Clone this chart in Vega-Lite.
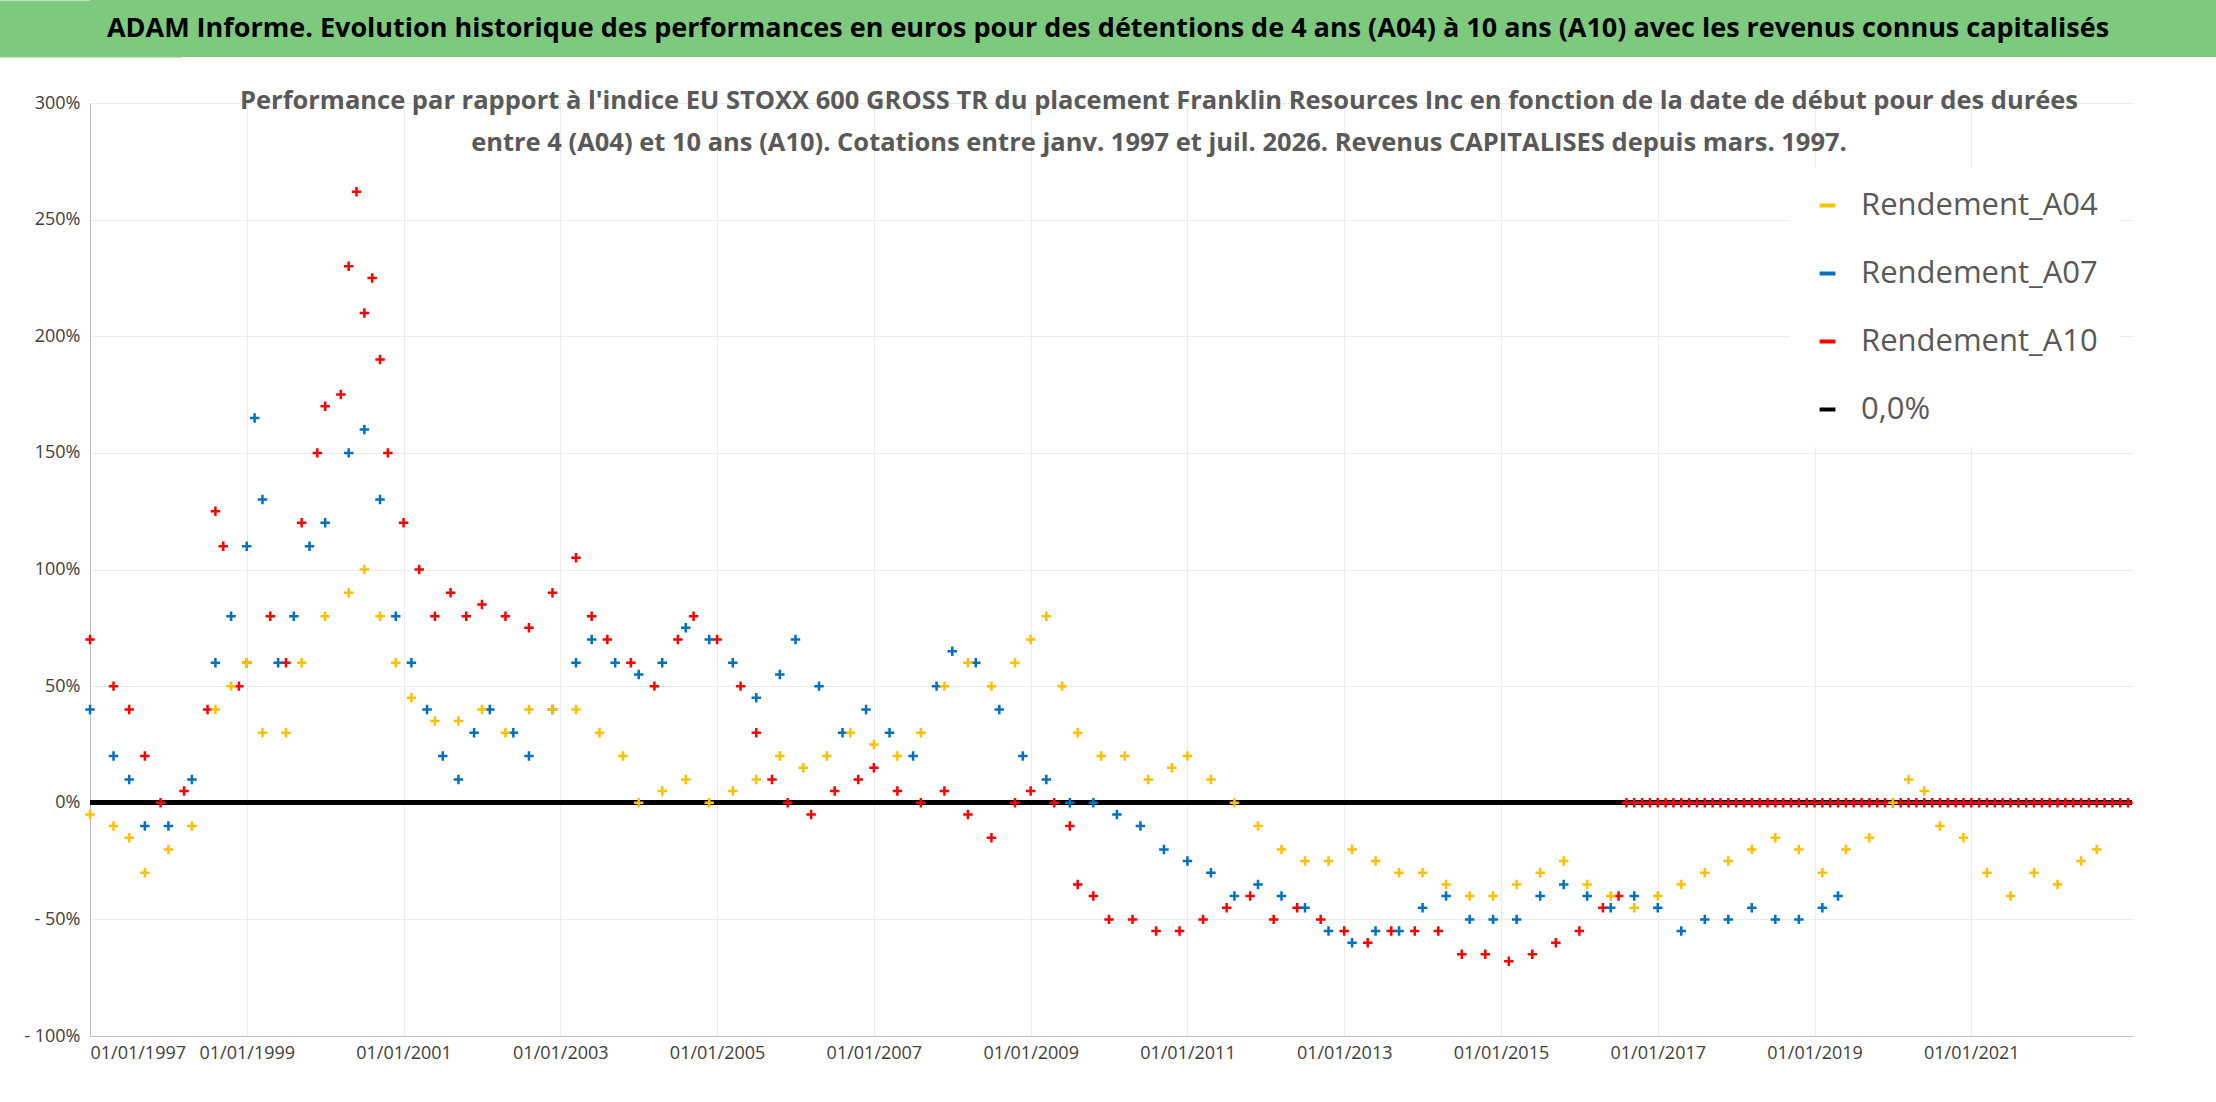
{
  "$schema": "https://vega.github.io/schema/vega-lite/v6.json",
  "background": "white",
  "padding": 0,
  "config": {"view": {"stroke": null}, "font": "Open Sans", "concat": {"spacing": 31}},
  "vconcat": [
    {
      "width": 2126,
      "height": 57,
      "view": {"fill": "#7dc97d", "stroke": null},
      "data": {"values": [{"txt": "ADAM Informe. Evolution historique des performances en euros pour des détentions de 4 ans (A04) à 10 ans (A10) avec les revenus connus capitalisés", "k": 0}]},
      "mark": {"type": "text", "fontSize": 27, "fontWeight": "bold", "font": "Open Sans", "color": "black", "align": "center", "baseline": "middle", "dx": -45},
      "encoding": {
        "text": {"field": "txt"},
        "y": {"field": "k", "type": "quantitative", "scale": {"domain": [-1, 1]},
          "axis": {"title": null, "labels": false, "ticks": false, "grid": false, "domainColor": "#7dc97d", "domainWidth": 182, "minExtent": 90, "maxExtent": 90}}
      }
    },
    {
      "width": 2042,
      "height": 933,
      "title": {
        "text": ["Performance par rapport à l'indice EU STOXX 600 GROSS TR  du placement Franklin Resources Inc en fonction de la date de début pour des durées", "entre 4 (A04) et 10 ans (A10). Cotations entre janv. 1997 et juil. 2026. Revenus CAPITALISES depuis mars. 1997."],
        "fontSize": 25.5, "fontWeight": "bold", "color": "#595959", "font": "Open Sans",
        "anchor": "middle", "dx": 48, "offset": -62, "lineHeight": 42
      },
      "data": {"values": [
        {"s":"Rendement_A10","t":1997.0,"v":70},{"s":"Rendement_A10","t":1997.3,"v":50},{"s":"Rendement_A10","t":1997.5,"v":40},{"s":"Rendement_A10","t":1997.7,"v":20},{"s":"Rendement_A10","t":1997.9,"v":0},{"s":"Rendement_A10","t":1998.2,"v":5},{"s":"Rendement_A10","t":1998.5,"v":40},{"s":"Rendement_A10","t":1998.6,"v":125},{"s":"Rendement_A10","t":1998.7,"v":110},{"s":"Rendement_A10","t":1998.9,"v":50},{"s":"Rendement_A10","t":1999.0,"v":60},{"s":"Rendement_A10","t":1999.3,"v":80},{"s":"Rendement_A10","t":1999.5,"v":60},{"s":"Rendement_A10","t":1999.7,"v":120},{"s":"Rendement_A10","t":1999.9,"v":150},{"s":"Rendement_A10","t":2000.0,"v":170},{"s":"Rendement_A10","t":2000.2,"v":175},{"s":"Rendement_A10","t":2000.3,"v":230},{"s":"Rendement_A10","t":2000.4,"v":262},{"s":"Rendement_A10","t":2000.5,"v":210},{"s":"Rendement_A10","t":2000.6,"v":225},{"s":"Rendement_A10","t":2000.7,"v":190},{"s":"Rendement_A10","t":2000.8,"v":150},{"s":"Rendement_A10","t":2001.0,"v":120},{"s":"Rendement_A10","t":2001.2,"v":100},{"s":"Rendement_A10","t":2001.4,"v":80},{"s":"Rendement_A10","t":2001.6,"v":90},{"s":"Rendement_A10","t":2001.8,"v":80},{"s":"Rendement_A10","t":2002.0,"v":85},{"s":"Rendement_A10","t":2002.3,"v":80},{"s":"Rendement_A10","t":2002.6,"v":75},{"s":"Rendement_A10","t":2002.9,"v":90},{"s":"Rendement_A10","t":2003.2,"v":105},{"s":"Rendement_A10","t":2003.4,"v":80},{"s":"Rendement_A10","t":2003.6,"v":70},{"s":"Rendement_A10","t":2003.9,"v":60},{"s":"Rendement_A10","t":2004.2,"v":50},{"s":"Rendement_A10","t":2004.5,"v":70},{"s":"Rendement_A10","t":2004.7,"v":80},{"s":"Rendement_A10","t":2005.0,"v":70},{"s":"Rendement_A10","t":2005.3,"v":50},{"s":"Rendement_A10","t":2005.5,"v":30},{"s":"Rendement_A10","t":2005.7,"v":10},{"s":"Rendement_A10","t":2005.9,"v":0},{"s":"Rendement_A10","t":2006.2,"v":-5},{"s":"Rendement_A10","t":2006.5,"v":5},{"s":"Rendement_A10","t":2006.8,"v":10},{"s":"Rendement_A10","t":2007.0,"v":15},{"s":"Rendement_A10","t":2007.3,"v":5},{"s":"Rendement_A10","t":2007.6,"v":0},{"s":"Rendement_A10","t":2007.9,"v":5},{"s":"Rendement_A10","t":2008.2,"v":-5},{"s":"Rendement_A10","t":2008.5,"v":-15},{"s":"Rendement_A10","t":2008.8,"v":0},{"s":"Rendement_A10","t":2009.0,"v":5},{"s":"Rendement_A10","t":2009.3,"v":0},{"s":"Rendement_A10","t":2009.5,"v":-10},{"s":"Rendement_A10","t":2009.6,"v":-35},{"s":"Rendement_A10","t":2009.8,"v":-40},{"s":"Rendement_A10","t":2010.0,"v":-50},{"s":"Rendement_A10","t":2010.3,"v":-50},{"s":"Rendement_A10","t":2010.6,"v":-55},{"s":"Rendement_A10","t":2010.9,"v":-55},{"s":"Rendement_A10","t":2011.2,"v":-50},{"s":"Rendement_A10","t":2011.5,"v":-45},{"s":"Rendement_A10","t":2011.8,"v":-40},{"s":"Rendement_A10","t":2012.1,"v":-50},{"s":"Rendement_A10","t":2012.4,"v":-45},{"s":"Rendement_A10","t":2012.7,"v":-50},{"s":"Rendement_A10","t":2013.0,"v":-55},{"s":"Rendement_A10","t":2013.3,"v":-60},{"s":"Rendement_A10","t":2013.6,"v":-55},{"s":"Rendement_A10","t":2013.9,"v":-55},{"s":"Rendement_A10","t":2014.2,"v":-55},{"s":"Rendement_A10","t":2014.5,"v":-65},{"s":"Rendement_A10","t":2014.8,"v":-65},{"s":"Rendement_A10","t":2015.1,"v":-68},{"s":"Rendement_A10","t":2015.4,"v":-65},{"s":"Rendement_A10","t":2015.7,"v":-60},{"s":"Rendement_A10","t":2016.0,"v":-55},{"s":"Rendement_A10","t":2016.3,"v":-45},{"s":"Rendement_A10","t":2016.5,"v":-40},
        {"s":"Rendement_A10","t":2016.6,"v":0},{"s":"Rendement_A10","t":2016.7,"v":0},{"s":"Rendement_A10","t":2016.8,"v":0},{"s":"Rendement_A10","t":2016.9,"v":0},{"s":"Rendement_A10","t":2017.0,"v":0},{"s":"Rendement_A10","t":2017.1,"v":0},{"s":"Rendement_A10","t":2017.2,"v":0},{"s":"Rendement_A10","t":2017.3,"v":0},{"s":"Rendement_A10","t":2017.4,"v":0},{"s":"Rendement_A10","t":2017.5,"v":0},{"s":"Rendement_A10","t":2017.6,"v":0},{"s":"Rendement_A10","t":2017.7,"v":0},{"s":"Rendement_A10","t":2017.8,"v":0},{"s":"Rendement_A10","t":2017.9,"v":0},{"s":"Rendement_A10","t":2018.0,"v":0},{"s":"Rendement_A10","t":2018.1,"v":0},{"s":"Rendement_A10","t":2018.2,"v":0},{"s":"Rendement_A10","t":2018.3,"v":0},{"s":"Rendement_A10","t":2018.4,"v":0},{"s":"Rendement_A10","t":2018.5,"v":0},{"s":"Rendement_A10","t":2018.6,"v":0},{"s":"Rendement_A10","t":2018.7,"v":0},{"s":"Rendement_A10","t":2018.8,"v":0},{"s":"Rendement_A10","t":2018.9,"v":0},{"s":"Rendement_A10","t":2019.0,"v":0},{"s":"Rendement_A10","t":2019.1,"v":0},{"s":"Rendement_A10","t":2019.2,"v":0},{"s":"Rendement_A10","t":2019.3,"v":0},{"s":"Rendement_A10","t":2019.4,"v":0},{"s":"Rendement_A10","t":2019.5,"v":0},{"s":"Rendement_A10","t":2019.6,"v":0},{"s":"Rendement_A10","t":2019.7,"v":0},{"s":"Rendement_A10","t":2019.8,"v":0},{"s":"Rendement_A10","t":2019.9,"v":0},{"s":"Rendement_A10","t":2020.0,"v":0},{"s":"Rendement_A10","t":2020.1,"v":0},{"s":"Rendement_A10","t":2020.2,"v":0},{"s":"Rendement_A10","t":2020.3,"v":0},{"s":"Rendement_A10","t":2020.4,"v":0},{"s":"Rendement_A10","t":2020.5,"v":0},{"s":"Rendement_A10","t":2020.6,"v":0},{"s":"Rendement_A10","t":2020.7,"v":0},{"s":"Rendement_A10","t":2020.8,"v":0},{"s":"Rendement_A10","t":2020.9,"v":0},{"s":"Rendement_A10","t":2021.0,"v":0},{"s":"Rendement_A10","t":2021.1,"v":0},{"s":"Rendement_A10","t":2021.2,"v":0},{"s":"Rendement_A10","t":2021.3,"v":0},{"s":"Rendement_A10","t":2021.4,"v":0},{"s":"Rendement_A10","t":2021.5,"v":0},{"s":"Rendement_A10","t":2021.6,"v":0},{"s":"Rendement_A10","t":2021.7,"v":0},{"s":"Rendement_A10","t":2021.8,"v":0},{"s":"Rendement_A10","t":2021.9,"v":0},{"s":"Rendement_A10","t":2022.0,"v":0},{"s":"Rendement_A10","t":2022.1,"v":0},{"s":"Rendement_A10","t":2022.2,"v":0},{"s":"Rendement_A10","t":2022.3,"v":0},{"s":"Rendement_A10","t":2022.4,"v":0},{"s":"Rendement_A10","t":2022.5,"v":0},{"s":"Rendement_A10","t":2022.6,"v":0},{"s":"Rendement_A10","t":2022.7,"v":0},{"s":"Rendement_A10","t":2022.8,"v":0},{"s":"Rendement_A10","t":2022.9,"v":0},{"s":"Rendement_A10","t":2023.0,"v":0},
        {"s":"Rendement_A07","t":1997.0,"v":40},{"s":"Rendement_A07","t":1997.3,"v":20},{"s":"Rendement_A07","t":1997.5,"v":10},{"s":"Rendement_A07","t":1997.7,"v":-10},{"s":"Rendement_A07","t":1998.0,"v":-10},{"s":"Rendement_A07","t":1998.3,"v":10},{"s":"Rendement_A07","t":1998.6,"v":60},{"s":"Rendement_A07","t":1998.8,"v":80},{"s":"Rendement_A07","t":1999.0,"v":110},{"s":"Rendement_A07","t":1999.1,"v":165},{"s":"Rendement_A07","t":1999.2,"v":130},{"s":"Rendement_A07","t":1999.4,"v":60},{"s":"Rendement_A07","t":1999.6,"v":80},{"s":"Rendement_A07","t":1999.8,"v":110},{"s":"Rendement_A07","t":2000.0,"v":120},{"s":"Rendement_A07","t":2000.3,"v":150},{"s":"Rendement_A07","t":2000.5,"v":160},{"s":"Rendement_A07","t":2000.7,"v":130},{"s":"Rendement_A07","t":2000.9,"v":80},{"s":"Rendement_A07","t":2001.1,"v":60},{"s":"Rendement_A07","t":2001.3,"v":40},{"s":"Rendement_A07","t":2001.5,"v":20},{"s":"Rendement_A07","t":2001.7,"v":10},{"s":"Rendement_A07","t":2001.9,"v":30},{"s":"Rendement_A07","t":2002.1,"v":40},{"s":"Rendement_A07","t":2002.4,"v":30},{"s":"Rendement_A07","t":2002.6,"v":20},{"s":"Rendement_A07","t":2002.9,"v":40},{"s":"Rendement_A07","t":2003.2,"v":60},{"s":"Rendement_A07","t":2003.4,"v":70},{"s":"Rendement_A07","t":2003.7,"v":60},{"s":"Rendement_A07","t":2004.0,"v":55},{"s":"Rendement_A07","t":2004.3,"v":60},{"s":"Rendement_A07","t":2004.6,"v":75},{"s":"Rendement_A07","t":2004.9,"v":70},{"s":"Rendement_A07","t":2005.2,"v":60},{"s":"Rendement_A07","t":2005.5,"v":45},{"s":"Rendement_A07","t":2005.8,"v":55},{"s":"Rendement_A07","t":2006.0,"v":70},{"s":"Rendement_A07","t":2006.3,"v":50},{"s":"Rendement_A07","t":2006.6,"v":30},{"s":"Rendement_A07","t":2006.9,"v":40},{"s":"Rendement_A07","t":2007.2,"v":30},{"s":"Rendement_A07","t":2007.5,"v":20},{"s":"Rendement_A07","t":2007.8,"v":50},{"s":"Rendement_A07","t":2008.0,"v":65},{"s":"Rendement_A07","t":2008.3,"v":60},{"s":"Rendement_A07","t":2008.6,"v":40},{"s":"Rendement_A07","t":2008.9,"v":20},{"s":"Rendement_A07","t":2009.2,"v":10},{"s":"Rendement_A07","t":2009.5,"v":0},{"s":"Rendement_A07","t":2009.8,"v":0},{"s":"Rendement_A07","t":2010.1,"v":-5},{"s":"Rendement_A07","t":2010.4,"v":-10},{"s":"Rendement_A07","t":2010.7,"v":-20},{"s":"Rendement_A07","t":2011.0,"v":-25},{"s":"Rendement_A07","t":2011.3,"v":-30},{"s":"Rendement_A07","t":2011.6,"v":-40},{"s":"Rendement_A07","t":2011.9,"v":-35},{"s":"Rendement_A07","t":2012.2,"v":-40},{"s":"Rendement_A07","t":2012.5,"v":-45},{"s":"Rendement_A07","t":2012.8,"v":-55},{"s":"Rendement_A07","t":2013.1,"v":-60},{"s":"Rendement_A07","t":2013.4,"v":-55},{"s":"Rendement_A07","t":2013.7,"v":-55},{"s":"Rendement_A07","t":2014.0,"v":-45},{"s":"Rendement_A07","t":2014.3,"v":-40},{"s":"Rendement_A07","t":2014.6,"v":-50},{"s":"Rendement_A07","t":2014.9,"v":-50},{"s":"Rendement_A07","t":2015.2,"v":-50},{"s":"Rendement_A07","t":2015.5,"v":-40},{"s":"Rendement_A07","t":2015.8,"v":-35},{"s":"Rendement_A07","t":2016.1,"v":-40},{"s":"Rendement_A07","t":2016.4,"v":-45},{"s":"Rendement_A07","t":2016.7,"v":-40},{"s":"Rendement_A07","t":2017.0,"v":-45},{"s":"Rendement_A07","t":2017.3,"v":-55},{"s":"Rendement_A07","t":2017.6,"v":-50},{"s":"Rendement_A07","t":2017.9,"v":-50},{"s":"Rendement_A07","t":2018.2,"v":-45},{"s":"Rendement_A07","t":2018.5,"v":-50},{"s":"Rendement_A07","t":2018.8,"v":-50},{"s":"Rendement_A07","t":2019.1,"v":-45},{"s":"Rendement_A07","t":2019.3,"v":-40},
        {"s":"Rendement_A04","t":1997.0,"v":-5},{"s":"Rendement_A04","t":1997.3,"v":-10},{"s":"Rendement_A04","t":1997.5,"v":-15},{"s":"Rendement_A04","t":1997.7,"v":-30},{"s":"Rendement_A04","t":1998.0,"v":-20},{"s":"Rendement_A04","t":1998.3,"v":-10},{"s":"Rendement_A04","t":1998.6,"v":40},{"s":"Rendement_A04","t":1998.8,"v":50},{"s":"Rendement_A04","t":1999.0,"v":60},{"s":"Rendement_A04","t":1999.2,"v":30},{"s":"Rendement_A04","t":1999.5,"v":30},{"s":"Rendement_A04","t":1999.7,"v":60},{"s":"Rendement_A04","t":2000.0,"v":80},{"s":"Rendement_A04","t":2000.3,"v":90},{"s":"Rendement_A04","t":2000.5,"v":100},{"s":"Rendement_A04","t":2000.7,"v":80},{"s":"Rendement_A04","t":2000.9,"v":60},{"s":"Rendement_A04","t":2001.1,"v":45},{"s":"Rendement_A04","t":2001.4,"v":35},{"s":"Rendement_A04","t":2001.7,"v":35},{"s":"Rendement_A04","t":2002.0,"v":40},{"s":"Rendement_A04","t":2002.3,"v":30},{"s":"Rendement_A04","t":2002.6,"v":40},{"s":"Rendement_A04","t":2002.9,"v":40},{"s":"Rendement_A04","t":2003.2,"v":40},{"s":"Rendement_A04","t":2003.5,"v":30},{"s":"Rendement_A04","t":2003.8,"v":20},{"s":"Rendement_A04","t":2004.0,"v":0},{"s":"Rendement_A04","t":2004.3,"v":5},{"s":"Rendement_A04","t":2004.6,"v":10},{"s":"Rendement_A04","t":2004.9,"v":0},{"s":"Rendement_A04","t":2005.2,"v":5},{"s":"Rendement_A04","t":2005.5,"v":10},{"s":"Rendement_A04","t":2005.8,"v":20},{"s":"Rendement_A04","t":2006.1,"v":15},{"s":"Rendement_A04","t":2006.4,"v":20},{"s":"Rendement_A04","t":2006.7,"v":30},{"s":"Rendement_A04","t":2007.0,"v":25},{"s":"Rendement_A04","t":2007.3,"v":20},{"s":"Rendement_A04","t":2007.6,"v":30},{"s":"Rendement_A04","t":2007.9,"v":50},{"s":"Rendement_A04","t":2008.2,"v":60},{"s":"Rendement_A04","t":2008.5,"v":50},{"s":"Rendement_A04","t":2008.8,"v":60},{"s":"Rendement_A04","t":2009.0,"v":70},{"s":"Rendement_A04","t":2009.2,"v":80},{"s":"Rendement_A04","t":2009.4,"v":50},{"s":"Rendement_A04","t":2009.6,"v":30},{"s":"Rendement_A04","t":2009.9,"v":20},{"s":"Rendement_A04","t":2010.2,"v":20},{"s":"Rendement_A04","t":2010.5,"v":10},{"s":"Rendement_A04","t":2010.8,"v":15},{"s":"Rendement_A04","t":2011.0,"v":20},{"s":"Rendement_A04","t":2011.3,"v":10},{"s":"Rendement_A04","t":2011.6,"v":0},{"s":"Rendement_A04","t":2011.9,"v":-10},{"s":"Rendement_A04","t":2012.2,"v":-20},{"s":"Rendement_A04","t":2012.5,"v":-25},{"s":"Rendement_A04","t":2012.8,"v":-25},{"s":"Rendement_A04","t":2013.1,"v":-20},{"s":"Rendement_A04","t":2013.4,"v":-25},{"s":"Rendement_A04","t":2013.7,"v":-30},{"s":"Rendement_A04","t":2014.0,"v":-30},{"s":"Rendement_A04","t":2014.3,"v":-35},{"s":"Rendement_A04","t":2014.6,"v":-40},{"s":"Rendement_A04","t":2014.9,"v":-40},{"s":"Rendement_A04","t":2015.2,"v":-35},{"s":"Rendement_A04","t":2015.5,"v":-30},{"s":"Rendement_A04","t":2015.8,"v":-25},{"s":"Rendement_A04","t":2016.1,"v":-35},{"s":"Rendement_A04","t":2016.4,"v":-40},{"s":"Rendement_A04","t":2016.7,"v":-45},{"s":"Rendement_A04","t":2017.0,"v":-40},{"s":"Rendement_A04","t":2017.3,"v":-35},{"s":"Rendement_A04","t":2017.6,"v":-30},{"s":"Rendement_A04","t":2017.9,"v":-25},{"s":"Rendement_A04","t":2018.2,"v":-20},{"s":"Rendement_A04","t":2018.5,"v":-15},{"s":"Rendement_A04","t":2018.8,"v":-20},{"s":"Rendement_A04","t":2019.1,"v":-30},{"s":"Rendement_A04","t":2019.4,"v":-20},{"s":"Rendement_A04","t":2019.7,"v":-15},{"s":"Rendement_A04","t":2020.0,"v":0},{"s":"Rendement_A04","t":2020.2,"v":10},{"s":"Rendement_A04","t":2020.4,"v":5},{"s":"Rendement_A04","t":2020.6,"v":-10},{"s":"Rendement_A04","t":2020.9,"v":-15},{"s":"Rendement_A04","t":2021.2,"v":-30},{"s":"Rendement_A04","t":2021.5,"v":-40},{"s":"Rendement_A04","t":2021.8,"v":-30},{"s":"Rendement_A04","t":2022.1,"v":-35},{"s":"Rendement_A04","t":2022.4,"v":-25},{"s":"Rendement_A04","t":2022.6,"v":-20}
      ]},
      "encoding": {
        "x": {"field": "t", "type": "quantitative", "scale": {"domain": [1997, 2023.05], "nice": false, "zero": false},
          "axis": {"title": null, "values": [1997,1999,2001,2003,2005,2007,2009,2011,2013,2015,2017,2019,2021], "labelExpr": "'01/01/' + datum.value", "grid": true, "gridColor": "#ececec", "ticks": false, "labelFontSize": 18, "labelColor": "#404040", "domainColor": "#bfbfbf", "labelPadding": 8}},
        "y": {"field": "v", "type": "quantitative", "scale": {"domain": [-100, 300], "nice": false},
          "axis": {"title": null, "values": [-100,-50,0,50,100,150,200,250,300], "labelExpr": "datum.value < 0 ? '- ' + (-datum.value) + '%' : datum.value + '%'", "grid": true, "gridColor": "#ececec", "ticks": false, "labelFontSize": 18, "labelColor": "#404040", "domainColor": "#bfbfbf", "minExtent": 90, "maxExtent": 90, "labelPadding": 10}}
      },
      "layer": [
        {
          "mark": {"type": "rule", "color": "black", "strokeWidth": 4},
          "encoding": {"x": {"datum": 1997}, "x2": {"datum": 2023.05}, "y": {"datum": 0}, "color": {"datum": "0,0%"}}
        },
        {
          "mark": {"type": "point", "shape": "M-1,0H1M0,-1V1", "filled": false, "strokeWidth": 2.5, "size": 90, "opacity": 1},
          "encoding": {
            "color": {"field": "s", "type": "nominal",
              "scale": {"domain": ["Rendement_A04", "Rendement_A07", "Rendement_A10", "0,0%"], "range": ["#ffc000", "#0070c0", "#ff0000", "black"]},
              "legend": {"title": null, "orient": "none", "legendX": 1700, "legendY": 168, "fillColor": "white", "labelFontSize": 31, "labelColor": "#595959", "labelLimit": 400, "rowPadding": 36, "padding": 22, "symbolSize": 250, "symbolStrokeWidth": 4, "labelOffset": 18}}
          }
        }
      ]
    }
  ]
}
